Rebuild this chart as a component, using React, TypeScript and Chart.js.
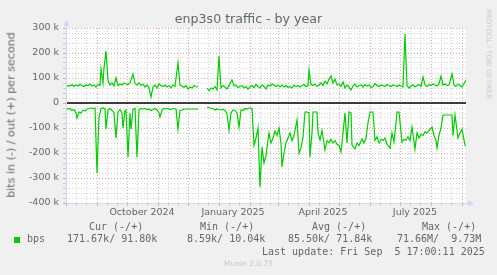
import React, { useEffect, useRef } from "react";
import { Chart, registerables } from "chart.js";
Chart.register(...registerables);

// day offsets from 1 Aug 2024 (x axis spans 400 days)
const outDays = [0,2,4,6,8,10,12,14,16,18,20,22,24,26,28,30,32,34,35,37,38,40,42,44,46,48,50,52,54,56,58,60,62,64,67,69,71,73,75,77,79,81,83,85,87,89,91,93,95,97,99,101,103,105,107,109,112,114,116,118,120,122,124,126,128,130,132,136,141,143,145,147,149,151,153,155,157,159,161,163,166,168,170,172,174,176,178,180,182,184,186,188,190,192,194,196,198,200,202,204,206,208,210,212,214,216,218,220,222,224,226,228,230,232,234,236,238,240,242,243,245,247,249,251,253,255,257,259,261,263,265,267,269,271,273,275,277,279,281,283,285,287,289,291,293,295,297,299,301,303,305,307,309,311,313,315,317,319,321,323,325,327,329,331,333,335,337,339,341,343,345,347,349,351,353,355,357,359,361,363,365,367,369,371,373,375,377,379,381,383,386,388,390,392,394,396,398,400];
// out traffic, kbit/s (null = no data)
const outKbps = [65,70,68,74,66,72,68,75,70,66,72,70,76,68,72,64,74,70,136,80,140,208,90,72,80,68,100,70,76,72,80,76,74,80,116,78,72,80,70,76,64,72,60,24,64,72,60,76,70,66,72,64,70,60,72,66,160,72,68,62,70,56,64,60,70,66,64,null,60,50,60,56,66,52,188,60,70,64,56,70,92,68,72,62,66,70,60,66,56,64,70,62,74,66,60,72,66,56,72,68,76,72,66,72,64,72,64,70,62,66,60,72,66,70,64,70,74,66,70,132,74,70,76,66,72,80,70,88,76,96,108,80,96,72,76,66,84,60,72,64,52,68,76,64,70,72,64,74,68,72,62,66,78,70,66,72,70,66,74,70,66,72,70,66,72,68,64,276,70,60,68,72,64,70,74,66,104,72,66,74,70,76,72,68,76,108,72,76,70,72,116,72,66,76,70,64,78,92];

const inDays = [0,2,4,6,8,10,11,13,15,17,19,21,23,25,27,29,31,33,35,37,39,40,42,44,46,48,50,52,54,56,57,59,60,62,64,65,67,69,71,73,75,77,79,81,83,85,87,89,91,93,94,96,98,100,102,104,106,108,110,112,114,116,118,120,124,128,132,136,141,143,145,147,149,151,153,155,157,159,161,163,165,167,169,171,173,175,177,179,181,183,185,186,188,190,192,194,196,198,200,201,203,205,207,209,211,213,215,216,218,220,222,224,226,228,231,233,235,237,239,241,243,244,246,247,249,251,252,254,256,259,261,263,265,267,269,271,273,275,277,279,281,283,285,286,289,291,293,296,298,300,302,304,307,309,311,313,315,317,319,321,324,326,328,330,331,333,336,338,340,342,344,346,349,351,353,355,357,359,361,363,366,368,370,371,373,375,377,379,382,386,387,389,392,394,396,399,400];
// in traffic, kbit/s (drawn below zero)
const inKbps = [20,24,22,30,26,40,60,36,40,28,32,24,22,20,22,20,280,56,22,20,24,104,28,22,30,40,140,36,26,40,100,30,28,216,40,104,26,22,216,28,22,24,22,26,24,30,26,22,28,40,56,28,22,24,22,26,24,22,24,104,30,28,24,24,24,24,24,null,17,18,22,22,28,24,26,28,26,30,44,108,40,28,30,40,96,28,30,22,24,20,20,22,170,140,100,336,176,240,212,176,120,160,140,112,130,100,160,256,200,160,140,120,150,130,68,200,180,136,36,36,40,216,120,36,36,36,120,148,110,188,150,160,145,160,150,165,170,196,120,40,160,36,40,168,184,160,170,144,160,140,80,36,36,150,135,160,145,150,140,165,180,120,155,80,36,36,156,145,150,135,150,96,184,120,140,125,130,115,120,110,96,130,150,180,130,100,48,48,48,48,130,48,140,120,105,168,172];

const monthStartDays = [0,31,61,92,122,153,184,212,243,273,304,334,365,396];
const quarterLabelDays = [76,167,257,349];
const quarterLabels = ["October 2024","January 2025","April 2025","July 2025"];
const yMin = -400000;
const yMax = 300000;
const yStep = 20000;
const yMajorStep = 100000;

const GRID = "rgba(143,143,143,0.38)";
const MGRID = "rgba(230,80,80,0.5)";
const AXIS = "#CFD6F8";
const FONT = "#666666";

const minorDays = monthStartDays.flatMap((d) => [d + 10, d + 20]).filter((d) => d < 400);
const xTickValues = [...monthStartDays, ...minorDays, ...quarterLabelDays].sort((a, b) => a - b);

const bgPlugin = {
  id: "bgPlugin",
  beforeDraw(chart: any) {
    const { ctx, chartArea: a } = chart;
    ctx.save();
    ctx.fillStyle = "#f0f0f0";
    ctx.fillRect(0, 0, chart.width, chart.height);
    ctx.fillStyle = "#ffffff";
    ctx.fillRect(a.left, a.top, a.right - a.left, a.bottom - a.top);
    ctx.restore();
  },
};

const axisPlugin = {
  id: "axisPlugin",
  afterDraw(chart: any) {
    const { ctx, chartArea: a } = chart;
    const x0 = Math.round(a.left) + 0.5;
    const y0 = Math.round(a.bottom) + 0.5;
    ctx.save();
    ctx.strokeStyle = AXIS;
    ctx.fillStyle = AXIS;
    ctx.lineWidth = 1;
    ctx.beginPath();
    ctx.moveTo(x0, y0);
    ctx.lineTo(x0, a.top - 4);
    ctx.moveTo(x0, y0);
    ctx.lineTo(a.right + 4, y0);
    ctx.stroke();
    ctx.beginPath();
    ctx.moveTo(x0 - 3, a.top - 2);
    ctx.lineTo(x0 + 3, a.top - 2);
    ctx.lineTo(x0, a.top - 8);
    ctx.closePath();
    ctx.fill();
    ctx.beginPath();
    ctx.moveTo(a.right + 2, y0 - 3);
    ctx.lineTo(a.right + 2, y0 + 3);
    ctx.lineTo(a.right + 8, y0);
    ctx.closePath();
    ctx.fill();
    ctx.restore();
  },
};

const abs = (left: number, top: number, extra: any = {}): React.CSSProperties => ({
  position: "absolute",
  left,
  top,
  whiteSpace: "pre",
  lineHeight: 1,
  ...extra,
});

export default function App() {
  const ref = useRef<HTMLCanvasElement | null>(null);
  useEffect(() => {
    document.body.style.margin = "0";
    const canvas = ref.current!;
    const outData = outDays.map((d, i) => ({ x: d, y: outKbps[i] === null ? null : (outKbps[i] as number) * 1000 }));
    const inData = inDays.map((d, i) => ({ x: d, y: inKbps[i] === null ? null : -(inKbps[i] as number) * 1000 }));
    const chart = new Chart(canvas, {
      type: "line",
      data: {
        datasets: [
          {
            label: "zero",
            data: [{ x: 0, y: 0 }, { x: 400, y: 0 }],
            borderColor: "#000000",
            borderWidth: 1.6,
            pointRadius: 0,
          },
          {
            label: "out",
            data: outData as any,
            borderColor: "#00cc00",
            borderWidth: 1.2,
            pointRadius: 0,
            spanGaps: false,
          },
          {
            label: "in",
            data: inData as any,
            borderColor: "#00cc00",
            borderWidth: 1.2,
            pointRadius: 0,
            spanGaps: false,
          },
        ],
      },
      options: {
        animation: false,
        responsive: false,
        devicePixelRatio: 1,
        events: [],
        layout: { padding: { left: 0, right: 31, top: 28, bottom: 52 } },
        plugins: { legend: { display: false }, tooltip: { enabled: false }, title: { display: false } },
        elements: { line: { tension: 0 }, point: { radius: 0 } },
        scales: {
          x: {
            type: "linear",
            min: 0,
            max: 400,
            afterFit(s: any) {
              s.height = 20;
            },
            afterBuildTicks(s: any) {
              s.ticks = xTickValues.map((v) => ({ value: v }));
            },
            ticks: {
              autoSkip: false,
              maxRotation: 0,
              minRotation: 0,
              padding: 1,
              color: FONT,
              font: { family: "DejaVu Sans", size: 9.5 },
              callback(v: any) {
                const i = quarterLabelDays.indexOf(Number(v));
                return i >= 0 ? quarterLabels[i] : "";
              },
            },
            grid: {
              color(ctx: any) {
                const v = ctx.tick ? ctx.tick.value : 0;
                if (quarterLabelDays.includes(v)) return "rgba(0,0,0,0)";
                return monthStartDays.includes(v) ? MGRID : GRID;
              },
              tickLength: 3,
              lineWidth: 1,
            },
            border: { display: false, dash: [1, 2] },
          },
          y: {
            type: "linear",
            min: yMin,
            max: yMax,
            afterFit(s: any) {
              s.width = 66;
            },
            ticks: {
              stepSize: yStep,
              autoSkip: false,
              padding: 4,
              color: FONT,
              font: { family: "DejaVu Sans", size: 9.5 },
              callback(v: any) {
                const n = Number(v);
                if (n % yMajorStep !== 0) return "";
                return n === 0 ? "0" : `${n / 1000} k`;
              },
            },
            grid: {
              color(ctx: any) {
                const v = ctx.tick ? ctx.tick.value : 0;
                return v % yMajorStep === 0 ? MGRID : GRID;
              },
              tickLength: 3,
              lineWidth: 1,
            },
            border: { display: false, dash: [1, 2] },
          },
        },
      },
      plugins: [bgPlugin, axisPlugin],
    } as any);
    return () => chart.destroy();
  }, []);

  const mono = { fontFamily: "'DejaVu Sans Mono', monospace", fontSize: 10, color: FONT };
  return (
    <div style={{ position: "fixed", left: 0, top: 0, width: 497, height: 275, background: "#f0f0f0", overflow: "hidden" }}>
      <canvas ref={ref} width={497} height={275} style={{ position: "absolute", left: 0, top: 0, width: 497, height: 275 }} />
      <div style={abs(0, 13.3, { width: 497, textAlign: "center", fontFamily: "'DejaVu Sans'", fontSize: 12.6, color: FONT })}>
        enp3s0 traffic - by year
      </div>
      <div style={abs(11, 115, { transform: "translate(-50%,-50%) rotate(-90deg)", fontFamily: "'DejaVu Sans'", fontSize: 11.1, color: FONT })}>
        bits in (-) / out (+) per second
      </div>
      <div style={abs(487.5, 53.5, { transform: "translate(-50%,-50%) rotate(90deg)", fontFamily: "'DejaVu Sans'", fontSize: 7, color: "#c8c8c8" })}>
        RRDTOOL / TOBI OETIKER
      </div>
      <div style={abs(89, 222.2, mono)}>Cur (-/+)</div>
      <div style={abs(200, 222.2, mono)}>Min (-/+)</div>
      <div style={abs(312, 222.2, mono)}>Avg (-/+)</div>
      <div style={abs(422, 222.2, mono)}>Max (-/+)</div>
      <div style={{ position: "absolute", left: 14, top: 237, width: 6, height: 6, background: "#00cc00" }} />
      <div style={abs(27, 234.2, mono)}>bps</div>
      <div style={abs(67, 234.2, mono)}>171.67k/ 91.80k</div>
      <div style={abs(187, 234.2, mono)}>8.59k/ 10.04k</div>
      <div style={abs(288, 234.2, mono)}>85.50k/ 71.84k</div>
      <div style={abs(397, 234.2, mono)}>71.66M/  9.73M</div>
      <div style={abs(262, 246.5, mono)}>Last update: Fri Sep  5 17:00:11 2025</div>
      <div style={abs(0, 260.3, { width: 497, textAlign: "center", fontFamily: "'DejaVu Sans'", fontSize: 7.5, color: "#c8c8c8" })}>
        Munin 2.0.75
      </div>
    </div>
  );
}
